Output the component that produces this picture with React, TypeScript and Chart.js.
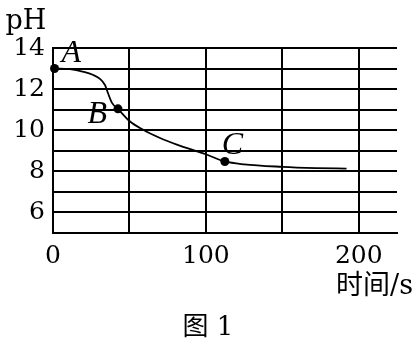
import React, { useEffect, useRef } from "react";
import { Chart, registerables } from "chart.js";

Chart.register(...registerables);

// Data
const timeValues = [1, 11, 20, 26, 30.7, 34, 36, 38.6, 42.5, 50, 59, 70, 81, 100, 112.4, 125, 150, 172, 192];
const phValues = [13.0, 12.97, 12.84, 12.7, 12.5, 12.2, 11.8, 11.33, 11.04, 10.45, 10.02, 9.62, 9.3, 8.83, 8.48, 8.34, 8.22, 8.16, 8.13];
const markerLabels = ["A", "B", "C"];
const markerIndex = [0, 8, 14];
const xTickValues = [0, 50, 100, 150, 200];
const xTickLabels = ["0", "", "100", "", "200"];
const yLabelled = [6, 8, 10, 12, 14];
const yAxisTitle = "pH";
const xAxisTitle = "时间/s";
const figureCaption = "图 1";

export default function App() {
  const ref = useRef<HTMLCanvasElement | null>(null);

  useEffect(() => {
    document.body.style.margin = "0";
    const canvas = ref.current;
    if (!canvas) return;

    const textPlugin = {
      id: "textPlugin",
      afterDraw(chart: any) {
        const ctx = chart.ctx;
        const xs = chart.scales.x;
        const ys = chart.scales.y;
        ctx.save();
        ctx.fillStyle = "#000";
        // pH
        ctx.font = "27px 'DejaVu Serif'";
        ctx.textAlign = "center";
        ctx.textBaseline = "alphabetic";
        ctx.fillText(yAxisTitle, 26, 29);
        // axis title
        ctx.font = "27px 'DejaVu Serif', 'Noto Sans CJK SC'";
        ctx.textAlign = "right";
        ctx.textBaseline = "middle";
        ctx.fillText(xAxisTitle, 413, 287);
        // caption
        ctx.font = "26px 'DejaVu Serif', 'Noto Sans CJK SC'";
        ctx.textAlign = "center";
        ctx.fillText(figureCaption, 208, 328);
        // point labels
        ctx.font = "italic 32px 'Liberation Serif'";
        ctx.textBaseline = "alphabetic";
        const offsets = [
          { dx: 7, dy: -7, align: "left" },
          { dx: -11, dy: 14, align: "right" },
          { dx: -3, dy: -7, align: "left" },
        ];
        markerLabels.forEach((lab, i) => {
          const idx = markerIndex[i];
          const px = xs.getPixelForValue(timeValues[idx]);
          const py = ys.getPixelForValue(phValues[idx]);
          ctx.textAlign = offsets[i].align;
          ctx.fillText(lab, px + offsets[i].dx, py + offsets[i].dy);
        });
        ctx.restore();
      },
    };

    const data = timeValues.map((t, i) => ({ x: t, y: phValues[i] }));
    const radii = timeValues.map((_, i) => (markerIndex.includes(i) ? 4.5 : 0));

    const chart = new Chart(canvas, {
      type: "line",
      data: {
        datasets: [
          {
            data,
            borderColor: "#000",
            backgroundColor: "#000",
            borderWidth: 1.8,
            pointRadius: radii,
            pointHoverRadius: radii,
            pointBackgroundColor: "#000",
            pointBorderWidth: 0,
            cubicInterpolationMode: "monotone",
            fill: false,
            clip: false,
          },
        ],
      },
      options: {
        responsive: false,
        animation: false,
        events: [],
        layout: { padding: { left: 0, right: 17, top: 48, bottom: 0 } },
        plugins: {
          legend: { display: false },
          tooltip: { enabled: false },
        },
        scales: {
          x: {
            type: "linear",
            min: 0,
            max: 225,
            afterBuildTicks(scale: any) {
              scale.ticks = xTickValues.map((v) => ({ value: v }));
            },
            afterFit(scale: any) {
              scale.height = 111;
            },
            grid: { color: "#000", lineWidth: 2, drawTicks: false },
            border: { display: true, color: "#000", width: 2 },
            ticks: {
              color: "#000",
              padding: 8,
              maxRotation: 0,
              autoSkip: false,
              font: { family: "'DejaVu Serif'", size: 25 },
              callback: (v: any) => {
                const i = xTickValues.indexOf(Number(v));
                return i >= 0 ? xTickLabels[i] : "";
              },
            },
          },
          y: {
            type: "linear",
            min: 5,
            max: 14,
            afterFit(scale: any) {
              scale.width = 53;
            },
            grid: { color: "#000", lineWidth: 2, drawTicks: false },
            border: { display: true, color: "#000", width: 2 },
            ticks: {
              stepSize: 1,
              color: "#000",
              padding: 8,
              autoSkip: false,
              font: { family: "'DejaVu Serif'", size: 25 },
              callback: (v: any) => (yLabelled.includes(Number(v)) ? String(v) : ""),
            },
          },
        },
      },
      plugins: [textPlugin],
    } as any);

    return () => chart.destroy();
  }, []);

  return (
    <div style={{ width: 414, height: 344, background: "#fff" }}>
      <canvas ref={ref} width={414} height={344} />
    </div>
  );
}
